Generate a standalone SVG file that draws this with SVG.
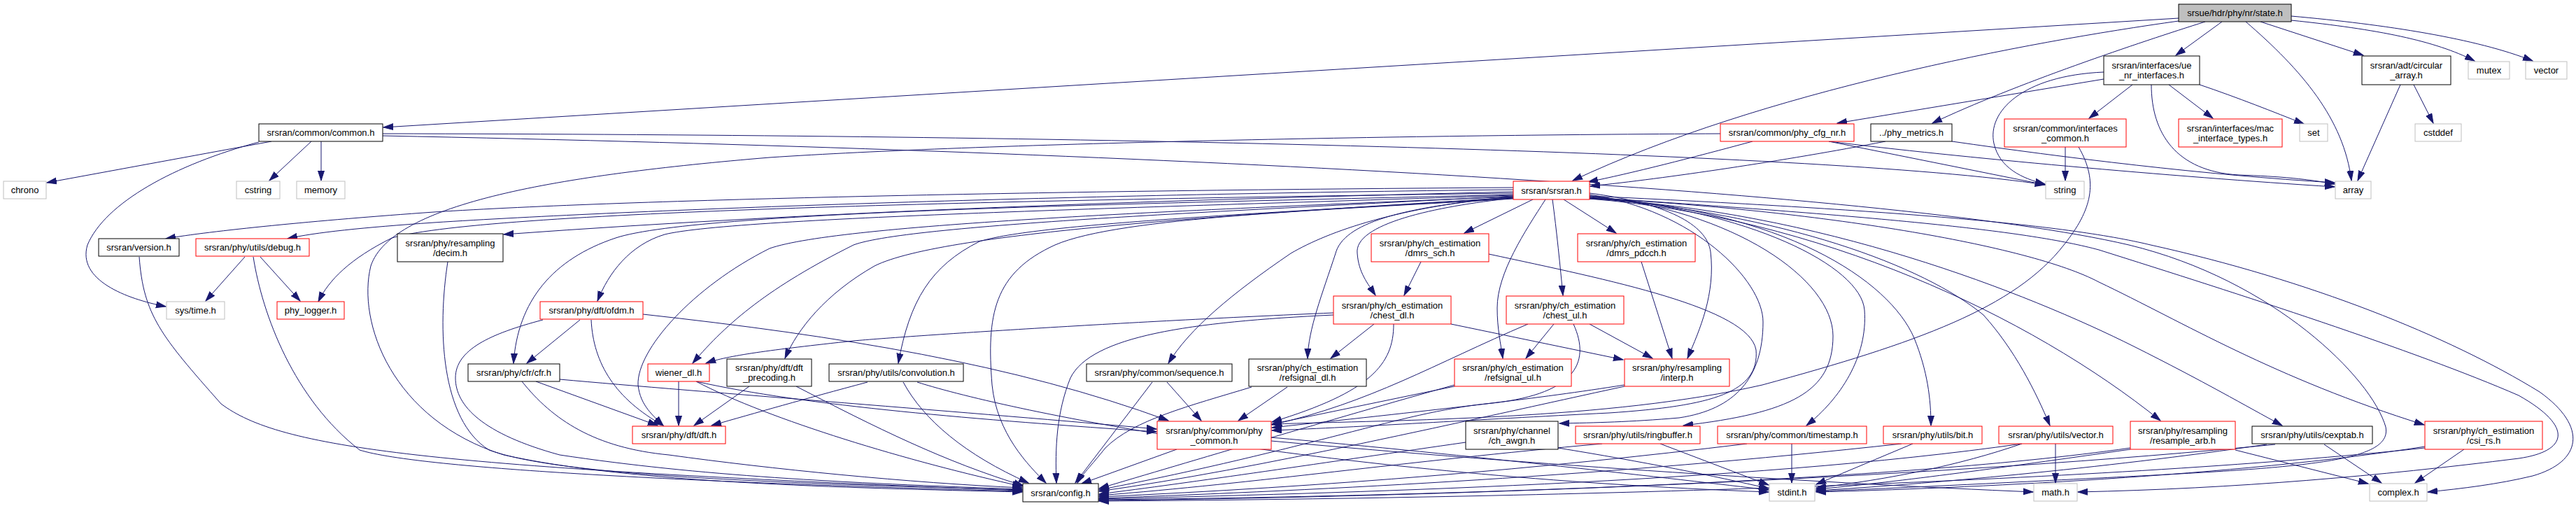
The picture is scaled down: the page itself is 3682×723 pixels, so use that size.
<svg xmlns="http://www.w3.org/2000/svg" width="3682" height="723" viewBox="0 0 3682 723">
<style>
.n rect{fill:#fff;stroke:#000;stroke-width:1}
.r rect{stroke:#ff0000}
.g rect{stroke:#bfbfbf}
.root rect{fill:#bfbfbf;stroke:#000}
text{font-family:"Liberation Sans",Arial,Helvetica,sans-serif;font-size:13px;text-anchor:middle;fill:#000}
#edges path{fill:none;stroke:#191970;stroke-width:1;marker-end:url(#ah)}
</style>
<defs>
<marker id="ah" markerUnits="userSpaceOnUse" markerWidth="16" markerHeight="12" refX="14" refY="5" orient="auto">
<path d="M0,0.5 L14,5 L0,9.5 z" fill="#191970" stroke="#191970" stroke-width="1"/>
</marker>
</defs>
<rect width="3682" height="723" fill="#fff"/>
<g id="edges">
<path d="M3114,26 L548,182"/>
<path d="M3114,30 C2900,60 2520,130 2248,258"/>
<path d="M3176,31 L3110,79"/>
<path d="M3152,31 C3060,60 2880,120 2762,176"/>
<path d="M3210,31 C3290,100 3350,170 3361,258"/>
<path d="M3231,31 L3378,79"/>
<path d="M3275,29 C3400,42 3480,58 3537,87"/>
<path d="M3275,23 C3410,35 3540,55 3620,87"/>
<path d="M3007,113 L2626,176"/>
<path d="M3007,103 C2890,108 2840,160 2850,205 C2858,240 2890,255 2923,263"/>
<path d="M3048,121 L2986,169"/>
<path d="M3100,121 L3163,169"/>
<path d="M3144,121 C3200,140 3250,160 3293,177"/>
<path d="M3075,121 C3075,190 3110,245 3200,250 C3260,252 3300,256 3337,263"/>
<path d="M3431,121 L3370,258"/>
<path d="M3450,121 L3478,176"/>
<path d="M388,202 L67,261"/>
<path d="M445,202 L385,258"/>
<path d="M459,202 L459,258"/>
<path d="M370,203 C250,235 150,290 125,350 C110,400 180,427 237,438"/>
<path d="M547,191 C1500,192 2600,215 2923,264"/>
<path d="M547,194 C1600,215 2700,270 3043,350 C3250,400 3390,540 3410,610 C3420,660 3300,668 3000,683 C2800,693 2700,698 2596,702"/>
<path d="M2614,202 L2923,264"/>
<path d="M2614,202 C2800,225 3100,252 3337,267"/>
<path d="M2505,202 C2420,225 2330,248 2270,260"/>
<path d="M2459,191 C2000,193 1400,205 1100,225 C800,250 560,290 530,380 C510,460 560,600 720,650 C900,690 1200,697 1461,703"/>
<path d="M2695,202 C2550,230 2380,255 2273,266"/>
<path d="M2790,202 C2950,225 3150,250 3337,261"/>
<path d="M2952,210 L2952,258"/>
<path d="M2971,210 C3000,260 2990,300 2950,350 C2880,440 2740,490 2519,550 C2300,600 2000,600 1818,606"/>
<path d="M2163,268 C1500,272 900,285 620,303 C450,315 300,330 237,341"/>
<path d="M2163,271 C1500,278 900,300 620,318 C520,325 450,332 411,341"/>
<path d="M2163,274 C1700,285 1200,300 720,335"/>
<path d="M2163,276 C1500,285 700,300 560,340 C500,370 470,400 455,431"/>
<path d="M2163,278 C1700,290 1000,300 880,340 C790,370 740,430 734,519"/>
<path d="M2163,279 C1700,295 1050,310 950,335 C900,350 870,390 854,430"/>
<path d="M2163,281 C1700,300 1200,320 1100,355 C990,410 910,500 912,550 C915,580 935,595 948,608"/>
<path d="M2163,282 C1800,305 1350,330 1250,380 C1180,420 1140,470 1122,512"/>
<path d="M2163,280 C1800,300 1300,320 1220,350 C1100,410 1040,460 990,519"/>
<path d="M2163,283 C1800,305 1480,320 1400,345 C1330,380 1300,430 1284,519"/>
<path d="M2163,284 C1900,300 1600,310 1508,350 C1420,390 1410,450 1418,550 C1425,620 1470,665 1495,690"/>
<path d="M2163,281 C2000,295 1900,330 1845,362 C1760,420 1700,470 1670,519"/>
<path d="M2163,282 C2000,295 1920,320 1909,362 C1890,420 1870,470 1869,512"/>
<path d="M2163,283 C2050,295 1935,320 1940,362 C1942,390 1955,405 1966,422"/>
<path d="M2191,285 L2093,333"/>
<path d="M2235,285 L2310,333"/>
<path d="M2219,285 C2225,330 2230,380 2234,422"/>
<path d="M2209,285 C2180,330 2140,390 2140,440 C2140,470 2145,490 2148,512"/>
<path d="M2272,276 C2380,290 2440,320 2445,360 C2452,420 2430,470 2412,512"/>
<path d="M2272,278 C2420,300 2520,400 2520,460 C2520,540 2480,585 2400,597 C2330,603 2280,604 2229,605"/>
<path d="M2272,280 C2480,300 2620,400 2620,480 C2620,560 2560,590 2406,608"/>
<path d="M2272,281 C2500,300 2660,380 2665,443 C2670,510 2630,570 2582,608"/>
<path d="M2272,282 C2550,300 2700,400 2736,483 C2755,530 2760,570 2760,608"/>
<path d="M2272,283 C2550,305 2750,380 2835,450 C2880,500 2910,560 2930,608"/>
<path d="M2272,284 C2600,310 2900,450 3088,601"/>
<path d="M2272,284 C2600,300 2900,420 3050,495 C3150,545 3210,580 3262,608"/>
<path d="M2272,283 C2600,300 2900,350 3000,403 C3120,460 3250,540 3465,607"/>
<path d="M2272,280 C2700,300 2950,320 3074,350 C3300,400 3500,480 3630,560 C3700,610 3690,660 3620,680 C3570,692 3520,698 3470,703"/>
<path d="M2272,282 C2700,310 2900,330 3000,357 C3200,420 3450,500 3600,565 C3680,610 3670,645 3600,655 C3400,680 3200,698 2970,703"/>
<path d="M350,367 L294,430"/>
<path d="M372,367 L429,430"/>
<path d="M362,367 C375,450 420,570 514,643 C600,670 1000,690 1461,702"/>
<path d="M199,367 C205,450 230,480 316,577 C400,640 600,668 1461,701"/>
<path d="M640,374 C625,470 630,600 699,643 C800,680 1100,690 1461,700"/>
<path d="M829,457 L753,519"/>
<path d="M845,457 C848,520 880,570 948,608"/>
<path d="M776,457 C700,477 651,500 651,540 C651,580 690,620 800,650 C1000,680 1200,690 1461,699"/>
<path d="M919,449 C1200,480 1450,520 1670,601"/>
<path d="M766,545 L940,608"/>
<path d="M746,545 C790,600 850,640 956,650 C1100,670 1300,690 1461,697"/>
<path d="M800,542 C1000,560 1400,590 1653,613"/>
<path d="M970,545 L970,608"/>
<path d="M995,545 C1100,600 1300,660 1461,695"/>
<path d="M995,545 C1150,580 1400,600 1653,617"/>
<path d="M1071,552 L992,608"/>
<path d="M1138,552 C1250,610 1350,660 1463,694"/>
<path d="M1240,546 C1150,570 1080,590 1017,608"/>
<path d="M1291,546 C1320,600 1380,650 1470,690"/>
<path d="M1311,546 C1450,590 1900,680 2528,703"/>
<path d="M1647,546 L1537,690"/>
<path d="M1668,546 L1717,601"/>
<path d="M1840,553 L1770,601"/>
<path d="M1789,553 C1700,580 1620,600 1580,640 C1560,665 1545,680 1540,690"/>
<path d="M1682,642 L1546,691"/>
<path d="M1817,625 C2100,650 2400,685 2528,700"/>
<path d="M1817,630 C2200,665 2600,690 2906,703"/>
<path d="M1906,447 C1600,460 1300,480 1220,487 C1100,500 1040,508 1009,519"/>
<path d="M1906,450 C1700,460 1560,480 1530,540 C1510,590 1508,640 1510,690"/>
<path d="M1992,463 C1992,520 1960,560 1818,603"/>
<path d="M1964,463 L1902,512"/>
<path d="M2074,463 L2320,514"/>
<path d="M2031,374 L2007,422"/>
<path d="M2128,363 C2300,400 2500,440 2510,500 C2515,560 2450,580 2300,590 C2100,600 1950,610 1818,615"/>
<path d="M2346,374 L2390,512"/>
<path d="M2221,463 L2181,512"/>
<path d="M2272,463 L2362,512"/>
<path d="M2184,463 C2050,520 1960,575 1818,607"/>
<path d="M2249,463 C2275,520 2250,565 2124,577 C2000,590 1880,640 1571,700"/>
<path d="M2079,552 L1818,606"/>
<path d="M2079,550 C1900,600 1700,660 1571,698"/>
<path d="M2322,550 C2195,570 2077,583 1818,611"/>
<path d="M2322,552 C2100,600 1800,670 1571,702"/>
<path d="M2095,632 C1900,660 1700,690 1571,706"/>
<path d="M2227,640 C2350,660 2450,680 2528,698"/>
<path d="M2373,634 L2528,693"/>
<path d="M2290,634 C2000,660 1800,690 1571,708"/>
<path d="M2561,634 L2561,690"/>
<path d="M2497,634 C2200,670 1900,695 1571,710"/>
<path d="M2734,634 L2596,692"/>
<path d="M2718,634 C2300,680 1900,700 1571,712"/>
<path d="M2890,634 C2800,665 2700,685 2596,697"/>
<path d="M2938,634 L2938,690"/>
<path d="M2890,634 C2500,690 1900,705 1571,713"/>
<path d="M3195,643 L3385,691"/>
<path d="M3045,640 C2700,690 2000,710 1571,714"/>
<path d="M3322,635 L3404,690"/>
<path d="M3252,635 C2800,680 2100,710 1571,715"/>
<path d="M3522,642 L3452,690"/>
<path d="M3466,640 C3000,690 2200,712 1571,716"/>
<path d="M3045,642 C2850,670 2700,690 2596,699"/>
<path d="M3240,635 C3000,670 2750,692 2596,701"/>
<path d="M3466,638 C3200,680 2800,698 2596,703"/>
</g>
<g id="n_state" class="n root"><rect x="3114" y="6" width="161" height="25"/><text x="3194.5" y="23">srsue/hdr/phy/nr/state.h</text></g>
<g id="n_common" class="n"><rect x="370" y="177" width="177" height="25"/><text x="458.5" y="194">srsran/common/common.h</text></g>
<g id="n_srsran" class="n r"><rect x="2163" y="259" width="109" height="26"/><text x="2217.5" y="277">srsran/srsran.h</text></g>
<g id="n_ue_nr" class="n"><rect x="3007" y="80" width="137" height="41"/><text x="3075.5" y="97.5">srsran/interfaces/ue</text><text x="3075.5" y="111.5">_nr_interfaces.h</text></g>
<g id="n_circ" class="n"><rect x="3376" y="80" width="127" height="41"/><text x="3439.5" y="97.5">srsran/adt/circular</text><text x="3439.5" y="111.5">_array.h</text></g>
<g id="n_mutex" class="n g"><rect x="3528" y="88" width="59" height="25"/><text x="3557.5" y="105">mutex</text></g>
<g id="n_vector" class="n g"><rect x="3610" y="88" width="59" height="25"/><text x="3639.5" y="105">vector</text></g>
<g id="n_array" class="n g"><rect x="3338" y="259" width="51" height="25"/><text x="3363.5" y="276">array</text></g>
<g id="n_chrono" class="n g"><rect x="5" y="259" width="61" height="25"/><text x="35.5" y="276">chrono</text></g>
<g id="n_cstring" class="n g"><rect x="338" y="259" width="62" height="25"/><text x="369" y="276">cstring</text></g>
<g id="n_memory" class="n g"><rect x="424" y="259" width="69" height="25"/><text x="458.5" y="276">memory</text></g>
<g id="n_systime" class="n g"><rect x="238" y="431" width="83" height="25"/><text x="279.5" y="448">sys/time.h</text></g>
<g id="n_string" class="n g"><rect x="2924" y="259" width="55" height="25"/><text x="2951.5" y="276">string</text></g>
<g id="n_phycfg" class="n r"><rect x="2459" y="177" width="191" height="25"/><text x="2554.5" y="194">srsran/common/phy_cfg_nr.h</text></g>
<g id="n_phymet" class="n"><rect x="2674" y="177" width="116" height="25"/><text x="2732" y="194">../phy_metrics.h</text></g>
<g id="n_ifcommon" class="n r"><rect x="2865" y="170" width="174" height="40"/><text x="2952" y="187.5">srsran/common/interfaces</text><text x="2952" y="201.5">_common.h</text></g>
<g id="n_mac" class="n r"><rect x="3114" y="170" width="148" height="40"/><text x="3188" y="187.5">srsran/interfaces/mac</text><text x="3188" y="201.5">_interface_types.h</text></g>
<g id="n_set" class="n g"><rect x="3287" y="177" width="40" height="25"/><text x="3307" y="194">set</text></g>
<g id="n_cstddef" class="n g"><rect x="3452" y="177" width="66" height="25"/><text x="3485" y="194">cstddef</text></g>
<g id="n_version" class="n"><rect x="141" y="341" width="115" height="25"/><text x="198.5" y="358">srsran/version.h</text></g>
<g id="n_debug" class="n r"><rect x="280" y="341" width="162" height="25"/><text x="361" y="358">srsran/phy/utils/debug.h</text></g>
<g id="n_logger" class="n r"><rect x="396" y="431" width="96" height="25"/><text x="444" y="448">phy_logger.h</text></g>
<g id="n_decim" class="n"><rect x="568" y="334" width="151" height="40"/><text x="643.5" y="351.5">srsran/phy/resampling</text><text x="643.5" y="365.5">/decim.h</text></g>
<g id="n_ofdm" class="n r"><rect x="772" y="431" width="147" height="25"/><text x="845.5" y="448">srsran/phy/dft/ofdm.h</text></g>
<g id="n_cfr" class="n"><rect x="669" y="520" width="131" height="25"/><text x="734.5" y="537">srsran/phy/cfr/cfr.h</text></g>
<g id="n_wiener" class="n r"><rect x="926" y="520" width="88" height="25"/><text x="970" y="537">wiener_dl.h</text></g>
<g id="n_dftprec" class="n"><rect x="1039" y="513" width="121" height="39"/><text x="1099.5" y="530">srsran/phy/dft/dft</text><text x="1099.5" y="544">_precoding.h</text></g>
<g id="n_dft" class="n r"><rect x="904" y="609" width="133" height="25"/><text x="970.5" y="626">srsran/phy/dft/dft.h</text></g>
<g id="n_conv" class="n"><rect x="1185" y="520" width="192" height="25"/><text x="1281" y="537">srsran/phy/utils/convolution.h</text></g>
<g id="n_seq" class="n"><rect x="1553" y="520" width="208" height="25"/><text x="1657" y="537">srsran/phy/common/sequence.h</text></g>
<g id="n_refdl" class="n"><rect x="1785" y="513" width="168" height="39"/><text x="1869" y="530">srsran/phy/ch_estimation</text><text x="1869" y="544">/refsignal_dl.h</text></g>
<g id="n_phycommon" class="n r"><rect x="1654" y="602" width="163" height="40"/><text x="1735.5" y="619.5">srsran/phy/common/phy</text><text x="1735.5" y="633.5">_common.h</text></g>
<g id="n_config" class="n"><rect x="1462" y="691" width="108" height="26"/><text x="1516" y="709">srsran/config.h</text></g>
<g id="n_dmrssch" class="n r"><rect x="1960" y="334" width="168" height="40"/><text x="2044" y="351.5">srsran/phy/ch_estimation</text><text x="2044" y="365.5">/dmrs_sch.h</text></g>
<g id="n_dmrspdcch" class="n r"><rect x="2255" y="334" width="168" height="40"/><text x="2339" y="351.5">srsran/phy/ch_estimation</text><text x="2339" y="365.5">/dmrs_pdcch.h</text></g>
<g id="n_chestdl" class="n r"><rect x="1906" y="423" width="168" height="40"/><text x="1990" y="440.5">srsran/phy/ch_estimation</text><text x="1990" y="454.5">/chest_dl.h</text></g>
<g id="n_chestul" class="n r"><rect x="2153" y="423" width="168" height="40"/><text x="2237" y="440.5">srsran/phy/ch_estimation</text><text x="2237" y="454.5">/chest_ul.h</text></g>
<g id="n_refful" class="n r"><rect x="2079" y="513" width="167" height="39"/><text x="2162.5" y="530">srsran/phy/ch_estimation</text><text x="2162.5" y="544">/refsignal_ul.h</text></g>
<g id="n_interp" class="n r"><rect x="2322" y="513" width="150" height="39"/><text x="2397" y="530">srsran/phy/resampling</text><text x="2397" y="544">/interp.h</text></g>
<g id="n_awgn" class="n"><rect x="2095" y="602" width="132" height="40"/><text x="2161" y="619.5">srsran/phy/channel</text><text x="2161" y="633.5">/ch_awgn.h</text></g>
<g id="n_ring" class="n r"><rect x="2252" y="609" width="178" height="25"/><text x="2341" y="626">srsran/phy/utils/ringbuffer.h</text></g>
<g id="n_timestamp" class="n r"><rect x="2455" y="609" width="213" height="25"/><text x="2561.5" y="626">srsran/phy/common/timestamp.h</text></g>
<g id="n_bit" class="n r"><rect x="2692" y="609" width="141" height="25"/><text x="2762.5" y="626">srsran/phy/utils/bit.h</text></g>
<g id="n_uvector" class="n r"><rect x="2857" y="609" width="163" height="25"/><text x="2938.5" y="626">srsran/phy/utils/vector.h</text></g>
<g id="n_stdint" class="n g"><rect x="2529" y="691" width="65" height="25"/><text x="2561.5" y="708">stdint.h</text></g>
<g id="n_math" class="n g"><rect x="2907" y="691" width="62" height="25"/><text x="2938" y="708">math.h</text></g>
<g id="n_resarb" class="n r"><rect x="3045" y="602" width="150" height="40"/><text x="3120" y="619.5">srsran/phy/resampling</text><text x="3120" y="633.5">/resample_arb.h</text></g>
<g id="n_cexptab" class="n"><rect x="3219" y="609" width="172" height="25"/><text x="3305" y="626">srsran/phy/utils/cexptab.h</text></g>
<g id="n_csirs" class="n r"><rect x="3466" y="602" width="168" height="40"/><text x="3550" y="619.5">srsran/phy/ch_estimation</text><text x="3550" y="633.5">/csi_rs.h</text></g>
<g id="n_complex" class="n g"><rect x="3387" y="691" width="82" height="25"/><text x="3428" y="708">complex.h</text></g>
</svg>
